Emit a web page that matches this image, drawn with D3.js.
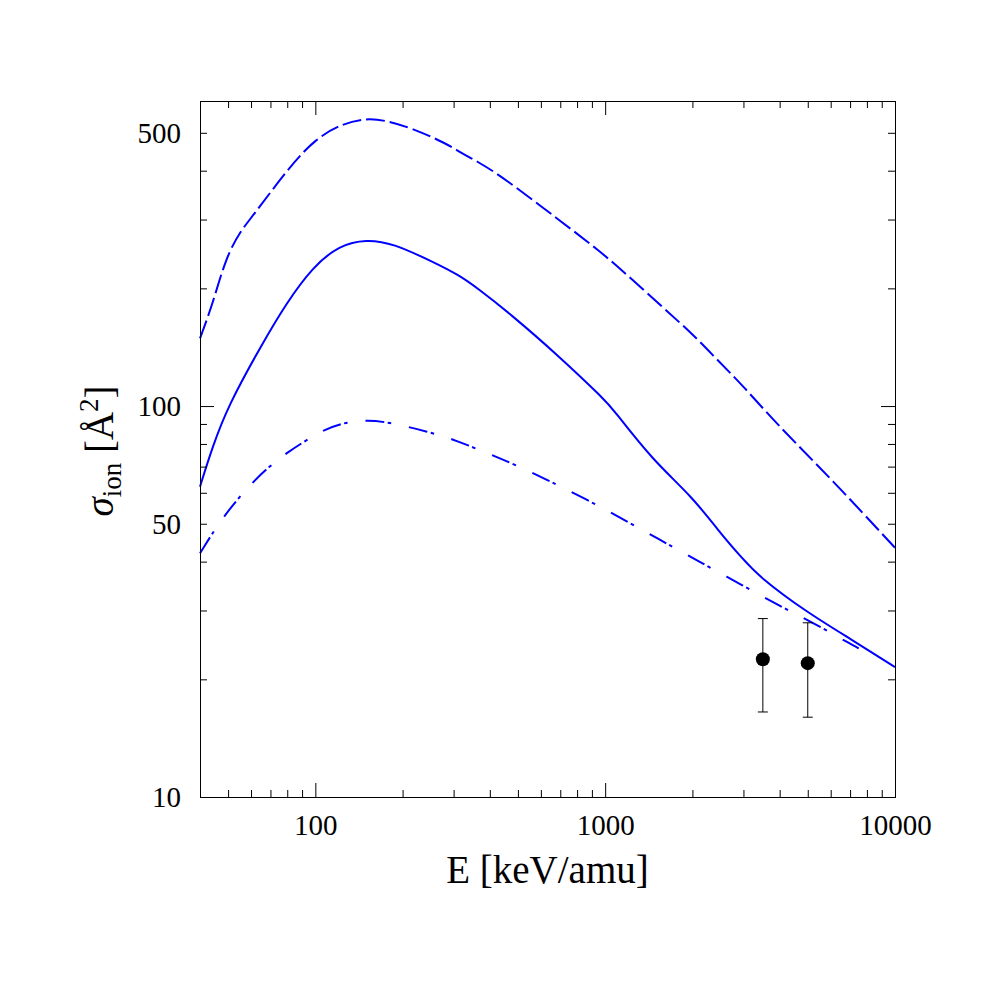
<!DOCTYPE html>
<html>
<head>
<meta charset="utf-8">
<script src="https://cdn.jsdelivr.net/npm/d3@7"></script>
<style>
  body { margin: 0; background: white; }
</style>
</head>
<body>
<script>
// curves: E in keV/amu, sigma in Å^2
const eDashed = [40, 44.3, 49.2, 55.5, 60, 81.3, 100.5, 124, 150, 175, 217, 282, 314, 363, 442, 694, 953, 1178, 1618, 2000, 2443, 3013, 3880, 6080, 10000];
const sDashed = [149, 183, 241, 282, 302, 409, 484, 528, 545, 538, 513, 470, 447, 422, 386, 299, 250, 218, 176, 153, 131, 112, 90.4, 64.7, 43.4];

const eSolid = [40, 44, 49.9, 65.8, 79.3, 98, 121, 150, 185, 254, 314, 363, 467, 694, 1000, 1059, 1455, 2000, 2472, 2970, 3396, 4920, 7130, 10000];
const sSolid = [62.2, 78, 100, 145, 183, 227, 258, 267, 261, 234, 216, 200, 173, 134, 103.5, 98.6, 72.8, 58.6, 47.7, 40.8, 36.6, 29.8, 25.2, 21.5];

const eDashDot = [40, 47.9, 60, 69.4, 78.2, 104.6, 124, 150, 175, 247, 314, 344, 467, 881, 1600, 2150, 2972, 4036, 5176, 7110, 7500];
const sDashDot = [42, 52.1, 63.4, 70, 75.3, 86.5, 90.6, 92.1, 91.2, 86, 81.1, 78.7, 72.1, 57.5, 44.8, 39.7, 34.8, 30.7, 28.0, 24.5, 24.0];

// measured points with error bars
const ePoints = [3500, 5000];
const sPoints = [22.5, 22.0];
const sLow = [16.5, 16.0];
const sHigh = [28.6, 27.9];

// ticks
const xTicks = [50, 60, 70, 80, 90, 100, 200, 300, 400, 500, 600, 700, 800, 900, 1000, 2000, 3000, 4000, 5000, 6000, 7000, 8000, 9000];
const xMajor = [100, 1000];
const xLabels = [100, 1000, 10000];
const yTicks = [20, 30, 40, 50, 60, 70, 80, 90, 100, 200, 300, 400, 500];
const yMajor = [100];
const yLabels = [10, 50, 100, 500];

const W = 997, H = 997;
const x = d3.scaleLog().domain([40, 10000]).range([200, 895]);
const y = d3.scaleLog().domain([10, 603]).range([797, 101]);
const font = "'Liberation Serif', 'DejaVu Serif', serif";

const svg = d3.select("body").append("svg")
    .attr("width", W)
    .attr("height", H)
    .style("background", "white");

const zip = (es, ss) => es.map((e, i) => ({e, s: ss[i]}));

const line = d3.line()
    .x(d => x(d.e))
    .y(d => y(d.s))
    .curve(d3.curveBasis);

const curves = [
  {data: zip(eSolid, sSolid), dash: null},
  {data: zip(eDashed, sDashed), dash: "19,5"},
  {data: zip(eDashDot, sDashDot), dash: "19,3.5,3.5,18"}
];

svg.append("g")
    .attr("fill", "none")
    .attr("stroke", "#0000ff")
    .attr("stroke-width", 2)
  .selectAll("path")
  .data(curves)
  .join("path")
    .attr("stroke-dasharray", d => d.dash)
    .attr("d", d => line(d.data));

// error bars + dots
const pts = ePoints.map((e, i) => ({e, s: sPoints[i], lo: sLow[i], hi: sHigh[i]}));
const pg = svg.append("g").attr("stroke", "#000").attr("stroke-width", 1);
pg.selectAll("line.bar").data(pts).join("line")
    .attr("class", "bar")
    .attr("x1", d => x(d.e)).attr("x2", d => x(d.e))
    .attr("y1", d => y(d.lo)).attr("y2", d => y(d.hi));
pg.selectAll("line.capLo").data(pts).join("line")
    .attr("class", "capLo")
    .attr("x1", d => x(d.e) - 5).attr("x2", d => x(d.e) + 5)
    .attr("y1", d => y(d.lo)).attr("y2", d => y(d.lo));
pg.selectAll("line.capHi").data(pts).join("line")
    .attr("class", "capHi")
    .attr("x1", d => x(d.e) - 5).attr("x2", d => x(d.e) + 5)
    .attr("y1", d => y(d.hi)).attr("y2", d => y(d.hi));
svg.append("g").selectAll("circle").data(pts).join("circle")
    .attr("cx", d => x(d.e))
    .attr("cy", d => y(d.s))
    .attr("r", 7)
    .attr("fill", "#000");

// tick marks on all four sides, pointing inward
const [x0, x1] = x.range();
const [y0, y1] = y.range();
const tickLen = (d, major) => major.includes(d) ? 14 : 7;

svg.append("g")
    .attr("transform", `translate(0,${y0})`)
    .call(d3.axisBottom(x).tickValues(xTicks).tickSizeInner(-7).tickSizeOuter(0).tickFormat(""))
    .call(g => g.select(".domain").remove())
    .call(g => g.selectAll(".tick line").attr("y2", d => -tickLen(d, xMajor)));

svg.append("g")
    .attr("transform", `translate(0,${y1})`)
    .call(d3.axisTop(x).tickValues(xTicks).tickSizeInner(-7).tickSizeOuter(0).tickFormat(""))
    .call(g => g.select(".domain").remove())
    .call(g => g.selectAll(".tick line").attr("y2", d => tickLen(d, xMajor)));

svg.append("g")
    .attr("transform", `translate(${x0},0)`)
    .call(d3.axisLeft(y).tickValues(yTicks).tickSizeInner(-7).tickSizeOuter(0).tickFormat(""))
    .call(g => g.select(".domain").remove())
    .call(g => g.selectAll(".tick line").attr("x2", d => tickLen(d, yMajor)));

svg.append("g")
    .attr("transform", `translate(${x1},0)`)
    .call(d3.axisRight(y).tickValues(yTicks).tickSizeInner(-7).tickSizeOuter(0).tickFormat(""))
    .call(g => g.select(".domain").remove())
    .call(g => g.selectAll(".tick line").attr("x2", d => -tickLen(d, yMajor)));

// frame
svg.append("rect")
    .attr("x", x0 + 0.5).attr("y", y1 + 0.5)
    .attr("width", x1 - x0).attr("height", y0 - y1)
    .attr("fill", "none")
    .attr("stroke", "#000")
    .attr("stroke-width", 1);

// tick labels
svg.append("g")
    .attr("transform", `translate(0,${y0})`)
    .call(d3.axisBottom(x).tickValues(xLabels).tickSize(0).tickPadding(17).tickFormat(d3.format("d")))
    .call(g => g.select(".domain").remove())
    .attr("font-family", font)
    .attr("font-size", 29)
    .call(g => g.selectAll("text").attr("fill", "#000"));

svg.append("g")
    .attr("transform", `translate(${x0},0)`)
    .call(d3.axisLeft(y).tickValues(yLabels).tickSize(0).tickPadding(19).tickFormat(d3.format("d")))
    .call(g => g.select(".domain").remove())
    .attr("font-family", font)
    .attr("font-size", 29)
    .call(g => g.selectAll("text").attr("fill", "#000"));

// axis titles
svg.append("text")
    .attr("x", (x0 + x1) / 2)
    .attr("y", 883)
    .attr("text-anchor", "middle")
    .attr("font-family", font)
    .attr("font-size", 39)
    .text("E [keV/amu]");

const yt = svg.append("text")
    .attr("transform", "translate(113,451) rotate(-90)")
    .attr("text-anchor", "middle")
    .attr("font-family", font)
    .attr("font-size", 39);
yt.append("tspan").attr("font-style", "italic").text("σ");
yt.append("tspan").attr("font-size", 27).attr("dy", 8).text("ion");
yt.append("tspan").attr("dy", -8).text(" [Å");
yt.append("tspan").attr("font-size", 27).attr("dy", -15).text("2");
yt.append("tspan").attr("dy", 15).text("]");
</script>
</body>
</html>
